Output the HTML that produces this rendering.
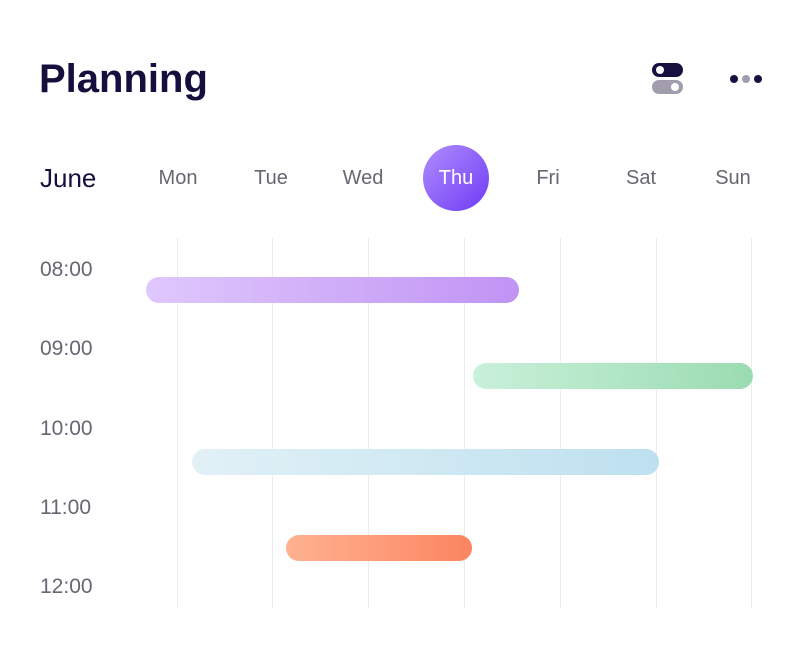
<!DOCTYPE html>
<html><head><style>
body{margin:0;width:806px;height:660px;background:#fff;font-family:"Liberation Sans",sans-serif;position:relative;overflow:hidden}
.a{position:absolute;white-space:nowrap}
.day{position:absolute;top:166px;width:80px;margin-left:-40px;text-align:center;font-size:20px;color:#666770;line-height:24px}
.t{position:absolute;left:40px;font-size:21px;color:#666772;line-height:24px}
.g{position:absolute;top:238px;height:370px;width:1px;background:#ececef}
.bar{position:absolute;height:26px;border-radius:13px}
</style></head><body>
<div class="a" style="left:39px;top:55px;font-size:40px;font-weight:bold;color:#160f3d;line-height:48px">Planning</div>
<div class="a" style="left:652px;top:63px;width:31px;height:14px;border-radius:7px;background:#1a1040"></div>
<div class="a" style="left:656px;top:66px;width:8px;height:8px;border-radius:4px;background:#fff"></div>
<div class="a" style="left:652px;top:80px;width:31px;height:14px;border-radius:7px;background:#a19dac"></div>
<div class="a" style="left:671px;top:83px;width:8px;height:8px;border-radius:4px;background:#fff"></div>
<div class="a" style="left:730px;top:75px;width:8px;height:8px;border-radius:4px;background:#1a1040"></div>
<div class="a" style="left:742px;top:75px;width:8px;height:8px;border-radius:4px;background:#a19dac"></div>
<div class="a" style="left:754px;top:75px;width:8px;height:8px;border-radius:4px;background:#1a1040"></div>
<div class="a" style="left:40px;top:163px;font-size:26px;color:#160f3d;line-height:30px">June</div>
<div class="day" style="left:178px">Mon</div>
<div class="day" style="left:271px">Tue</div>
<div class="day" style="left:363px">Wed</div>
<div class="a" style="left:423px;top:145px;width:66px;height:66px;border-radius:33px;background:linear-gradient(135deg,#b08cff,#6f3cf5)"></div>
<div class="day" style="left:456px;color:#fff">Thu</div>
<div class="day" style="left:548px">Fri</div>
<div class="day" style="left:641px">Sat</div>
<div class="day" style="left:733px">Sun</div>
<div class="g" style="left:177px"></div><div class="g" style="left:272px"></div><div class="g" style="left:368px"></div><div class="g" style="left:464px"></div><div class="g" style="left:560px"></div><div class="g" style="left:656px"></div><div class="g" style="left:751px"></div>
<div class="t" style="top:258px">08:00</div>
<div class="t" style="top:337px">09:00</div>
<div class="t" style="top:417px">10:00</div>
<div class="t" style="top:496px">11:00</div>
<div class="t" style="top:575px">12:00</div>
<div class="bar" style="left:146px;top:277px;width:373px;background:linear-gradient(90deg,#dfc8fc,#c193f4)"></div>
<div class="bar" style="left:473px;top:363px;width:280px;background:linear-gradient(90deg,#c9f0da,#9bdcb2)"></div>
<div class="bar" style="left:192px;top:449px;width:467px;background:linear-gradient(90deg,#e1f1f6,#bde0ef)"></div>
<div class="bar" style="left:286px;top:535px;width:186px;background:linear-gradient(90deg,#feb290,#fc8461)"></div>
</body></html>
